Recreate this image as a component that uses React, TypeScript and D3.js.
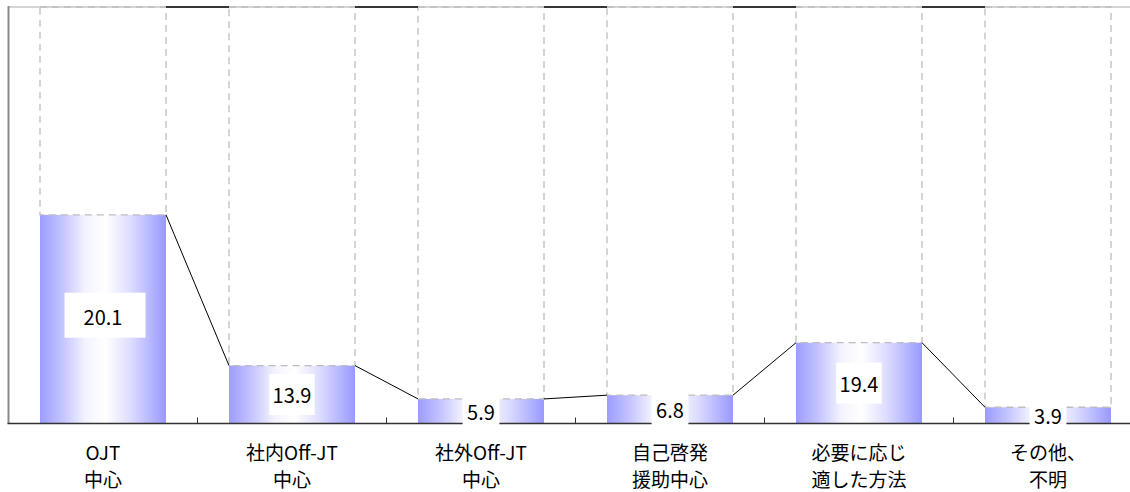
import React from "react";
import * as d3 from "d3";

// ---- data ----
const categories: string[][] = [
  ["OJT", "中心"],
  ["社内Off-JT", "中心"],
  ["社外Off-JT", "中心"],
  ["自己啓発", "援助中心"],
  ["必要に応じ", "適した方法"],
  ["その他、", "不明"],
];
// bar share (%) as drawn in the picture
const barValues: number[] = [50.1, 13.9, 5.9, 6.8, 19.4, 3.9];
// data labels as printed on the picture
const labelValues: string[] = ["20.1", "13.9", "5.9", "6.8", "19.4", "3.9"];
const total = 100;

// ---- layout / style constants ----
const W = 1130;
const H = 492;
const plotLeft = 8.5;
const plotRight = 8.5 + 6 * 189;
const plotTop = 7;
const plotBottom = 423.5;
const FONT = "'Noto Sans CJK JP', 'Liberation Sans', sans-serif";

export default function App() {
  const ids = categories.map((_, i) => String(i));
  const x = d3
    .scaleBand<string>()
    .domain(ids)
    .range([plotLeft, plotRight])
    .paddingInner(1 / 3)
    .paddingOuter(1 / 6);
  const y = d3.scaleLinear().domain([0, total]).range([plotBottom, plotTop]);
  const bw = x.bandwidth();
  const step = x.step();

  const seriesLine = d3.line<[number, number]>();

  return (
    <svg
      width={W}
      height={H}
      style={{ position: "absolute", left: 0, top: 0, display: "block", background: "#fff" }}
    >
      <defs>
        <linearGradient id="barGrad" x1="0" x2="1" y1="0" y2="0">
          <stop offset="0%" stopColor="#9c9cff" />
          <stop offset="18%" stopColor="#c4c4ff" />
          <stop offset="36%" stopColor="#f3f3ff" />
          <stop offset="52%" stopColor="#ffffff" />
          <stop offset="72%" stopColor="#dcdcff" />
          <stop offset="100%" stopColor="#9999ff" />
        </linearGradient>
      </defs>

      {/* plot top border */}
      <line x1={plotLeft} x2={W} y1={plotTop} y2={plotTop} stroke="#d4d4d4" strokeWidth={2} />

      {/* bars (lower series) */}
      {barValues.map((v, i) => (
        <rect
          key={"b" + i}
          x={x(ids[i])!}
          y={y(v)}
          width={bw}
          height={y(0) - y(v)}
          fill="url(#barGrad)"
        />
      ))}

      {/* upper (remainder) series: dashed outline */}
      {barValues.map((v, i) => (
        <rect
          key={"u" + i}
          x={x(ids[i])!}
          y={y(total)}
          width={bw}
          height={y(v) - y(total)}
          fill="none"
          stroke="#bdbdbd"
          strokeWidth={1.3}
          strokeDasharray="7,5"
        />
      ))}

      {/* series lines */}
      {barValues.slice(0, -1).map((v, i) => {
        const x0 = x(ids[i])! + bw;
        const x1 = x(ids[i + 1])!;
        return (
          <g key={"s" + i}>
            <path
              d={seriesLine([
                [x0, y(v)],
                [x1, y(barValues[i + 1])],
              ])!}
              stroke="#000"
              strokeWidth={1}
              fill="none"
            />
            <path
              d={seriesLine([
                [x0, y(total)],
                [x1, y(total)],
              ])!}
              stroke="#000"
              strokeWidth={1.3}
              fill="none"
            />
          </g>
        );
      })}

      {/* axes */}
      <line x1={plotLeft} x2={plotLeft} y1={plotTop - 1} y2={plotBottom} stroke="#8a8a8a" strokeWidth={2} />
      <line x1={plotLeft - 1} x2={W} y1={plotBottom} y2={plotBottom} stroke="#333" strokeWidth={1.5} />
      {ids.map((id, i) =>
        i === 0 ? null : (
          <line
            key={"t" + i}
            x1={x(id)! - (step - bw) / 2}
            x2={x(id)! - (step - bw) / 2}
            y1={plotBottom - 6}
            y2={plotBottom}
            stroke="#333"
            strokeWidth={1}
          />
        )
      )}

      {/* data labels */}
      {barValues.map((v, i) => {
        const cx = x(ids[i])! + bw / 2;
        const cy = (y(v) + y(0)) / 2;
        const txt = labelValues[i];
        const big = i === 0;
        const boxW = big ? 81 : txt.length * 8.6 + 11;
        const boxH = big ? 45 : 41;
        return (
          <g key={"l" + i}>
            <rect
              x={cx - boxW / 2 + (big ? 2 : 0)}
              y={cy - boxH / 2 - (big ? 4 : 0)}
              width={boxW}
              height={boxH}
              fill="#fff"
            />
            <text
              x={cx}
              y={cy - (big ? 3 : 0)}
              textAnchor="middle"
              dominantBaseline="central"
              fontFamily={FONT}
              fontSize={20}
              fill="#000"
            >
              {txt}
            </text>
          </g>
        );
      })}

      {/* category labels */}
      {categories.map((lines, i) => {
        const cx = x(ids[i])! + bw / 2;
        return (
          <text
            key={"c" + i}
            textAnchor="middle"
            fontFamily={FONT}
            fontSize={19}
            fill="#000"
          >
            {lines.map((ln, j) => (
              <tspan key={j} x={cx} y={460 + j * 27}>
                {ln}
              </tspan>
            ))}
          </text>
        );
      })}
    </svg>
  );
}
